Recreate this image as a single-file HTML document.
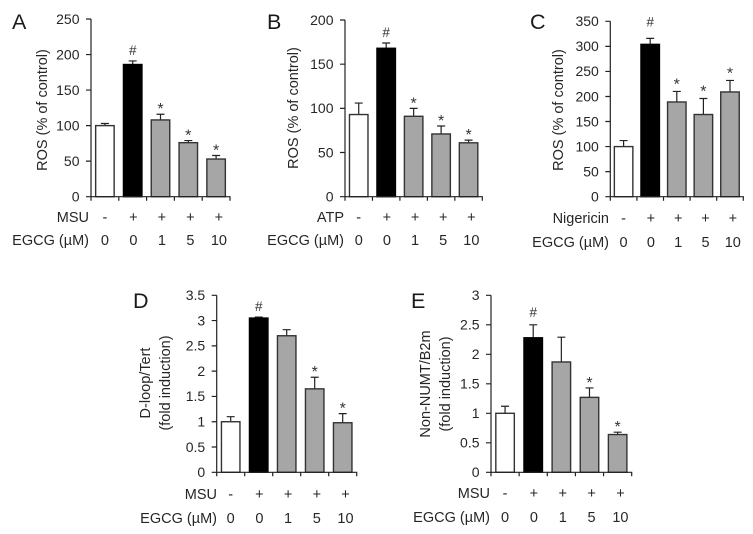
<!DOCTYPE html>
<html lang="en">
<head>
<meta charset="utf-8">
<title>ROS and mitochondrial DNA bar charts</title>
<style>
html,body{margin:0;padding:0;background:#fff;}
svg{display:block;font-family:"Liberation Sans",Arial,sans-serif;fill:#262626;filter:blur(0.3px);}
</style>
</head>
<body>
<svg id="figure" width="753" height="534" viewBox="0 0 753 534" xmlns="http://www.w3.org/2000/svg"></svg>
<script>
const rowValues = ['-', '+', '+', '+', '+'];
const doseLabels = ['0', '0', '1', '5', '10'];
const marksABC = ['', '#', '*', '*', '*'];
const marksDE = ['', '#', '', '*', '*'];

const aTicks = ['0', '50', '100', '150', '200', '250'];
const aValues = [100, 186, 108, 76, 53];
const aErrorTops = [103, 191, 116, 79, 58];

const bTicks = ['0', '50', '100', '150', '200'];
const bValues = [93, 168, 91, 71, 61];
const bErrorTops = [106, 174, 100, 80, 64];

const cTicks = ['0', '50', '100', '150', '200', '250', '300', '350'];
const cValues = [100, 304, 189, 164, 209];
const cErrorTops = [112, 316, 210, 196, 232];

const dTicks = ['0', '0.5', '1', '1.5', '2', '2.5', '3', '3.5'];
const dValues = [1, 3.05, 2.7, 1.65, 0.98];
const dErrorTops = [1.1, 3.07, 2.82, 1.88, 1.16];

const eTicks = ['0', '0.5', '1', '1.5', '2', '2.5', '3'];
const eValues = [1, 2.28, 1.87, 1.27, 0.64];
const eErrorTops = [1.12, 2.5, 2.29, 1.43, 0.68];

const barFills = ['#ffffff', '#000000', '#a6a6a6', '#a6a6a6', '#a6a6a6'];

const svg = document.getElementById('figure');
const NS = 'http://www.w3.org/2000/svg';

function make(parent, tag, attrs, text) {
  const el = document.createElementNS(NS, tag);
  for (const k in attrs) el.setAttribute(k, attrs[k]);
  if (text !== undefined) el.textContent = text;
  parent.appendChild(el);
  return el;
}

function drawPanel(p) {
  const g = make(svg, 'g', {});
  
  

  const yMax = parseFloat(p.ticks[p.ticks.length - 1]);
  const yScale = v => p.bottom - (v / yMax) * (p.bottom - p.top);
  const step = (p.right - p.left) / p.values.length;
  const xScale = i => p.left + step * (i + 0.5);

  const letter = make(g, 'text', {x: p.letterX, y: p.letterY, 'font-size': 21.5, fill: '#1a1a1a'}, p.id);
  
  

  p.values.forEach((v, i) => {
    const cx = xScale(i);
    const w = 18.5;
    const err = make(g, 'path', {
      d: 'M' + cx + ' ' + yScale(v) + 'V' + yScale(p.errors[i]) + 'm-4 0h8',
      fill: 'none', stroke: '#222', 'stroke-width': 1.2
    });
    
    

    const bar = make(g, 'rect', {
      x: cx - w / 2, y: yScale(v), width: w, height: p.bottom - yScale(v),
      fill: barFills[i], stroke: i === 1 ? '#000' : '#333', 'stroke-width': 1.4
    });
    
    

    if (p.marks[i]) {
      const isHash = p.marks[i] === '#';
      const mark = make(g, 'text', {
        x: cx, y: yScale(p.errors[i]) - (isHash ? p.hashGap : p.starGap),
        'text-anchor': 'middle', 'font-size': isHash ? 13.5 : 16, fill: '#333'
      }, p.marks[i]);
      
      
    }

    const sign = make(g, 'text', {x: cx + i * 0.7, y: p.row1, 'text-anchor': 'middle', 'font-size': 14.5}, rowValues[i]);
    
    

    const dose = make(g, 'text', {x: cx + i * 0.7, y: p.row2, 'text-anchor': 'middle', 'font-size': 14.5}, doseLabels[i]);
    
    
  });

  let axisPath = 'M' + p.left + ' ' + p.top + 'V' + (p.bottom + 4) + 'M' + (p.left - 5) + ' ' + p.bottom + 'H' + p.right + 'V' + (p.bottom + 4);
  p.values.forEach((v, i) => {
    axisPath += 'M' + (p.left + step * i) + ' ' + p.bottom + 'v4';
  });
  p.ticks.forEach(t => {
    const y = yScale(parseFloat(t));
    axisPath += 'M' + (p.left - 5) + ' ' + y + 'H' + p.left;
    const label = make(g, 'text', {x: p.left - 11.5, y: y + 4.8, 'text-anchor': 'end', 'font-size': 14}, t);
    
    
  });
  const axes = make(g, 'path', {d: axisPath, fill: 'none', stroke: '#222', 'stroke-width': 1.2});
  
  

  p.titles.forEach((t, i) => {
    const title = make(g, 'text', {
      transform: 'translate(' + (p.titleX + i * 20) + ' ' + p.titleY + ') rotate(-90)',
      'text-anchor': 'middle', 'font-size': 14.5
    }, t);
    
    
  });

  const stim = make(g, 'text', {x: p.labelRight, y: p.row1, 'text-anchor': 'end', 'font-size': 14.5}, p.stimulus);
  
  

  const egcg = make(g, 'text', {x: p.labelRight, y: p.row2, 'text-anchor': 'end', 'font-size': 14.5}, 'EGCG (µM)');
  
  
}

drawPanel({id: 'A', ticks: aTicks, values: aValues, errors: aErrorTops, marks: marksABC, stimulus: 'MSU',
  left: 91, right: 230, top: 19, bottom: 196.7, letterX: 12, letterY: 29, row1: 222, row2: 245, labelRight: 89,
  titles: ['ROS (% of control)'], titleLens: [123], titleX: 47, titleY: 110, hashGap: 6, starGap: 0});
drawPanel({id: 'B', ticks: bTicks, values: bValues, errors: bErrorTops, marks: marksABC, stimulus: 'ATP',
  left: 345, right: 482.3, top: 20, bottom: 196.7, letterX: 267, letterY: 29, row1: 222, row2: 245, labelRight: 344,
  titles: ['ROS (% of control)'], titleLens: [123], titleX: 298, titleY: 108, hashGap: 6, starGap: 0});
drawPanel({id: 'C', ticks: cTicks, values: cValues, errors: cErrorTops, marks: marksABC, stimulus: 'Nigericin',
  left: 610.3, right: 743.3, top: 21.3, bottom: 196.7, letterX: 530, letterY: 29, row1: 223, row2: 247, labelRight: 609,
  titles: ['ROS (% of control)'], titleLens: [123], titleX: 563, titleY: 110, hashGap: 12, starGap: 2});
drawPanel({id: 'D', ticks: dTicks, values: dValues, errors: dErrorTops, marks: marksDE, stimulus: 'MSU',
  left: 216.7, right: 356.7, top: 295.3, bottom: 472.3, letterX: 133, letterY: 308, row1: 499, row2: 523, labelRight: 217,
  titles: ['D-loop/Tert', '(fold induction)'], titleLens: [70, 95], titleX: 150, titleY: 383, hashGap: 6, starGap: 0});
drawPanel({id: 'E', ticks: eTicks, values: eValues, errors: eErrorTops, marks: marksDE, stimulus: 'MSU',
  left: 491, right: 631.7, top: 295.3, bottom: 472.3, letterX: 411, letterY: 308, row1: 498, row2: 522, labelRight: 490,
  titles: ['Non-NUMT/B2m', '(fold induction)'], titleLens: [105, 95], titleX: 430, titleY: 384, hashGap: 8, starGap: 0});
</script>
</body>
</html>
